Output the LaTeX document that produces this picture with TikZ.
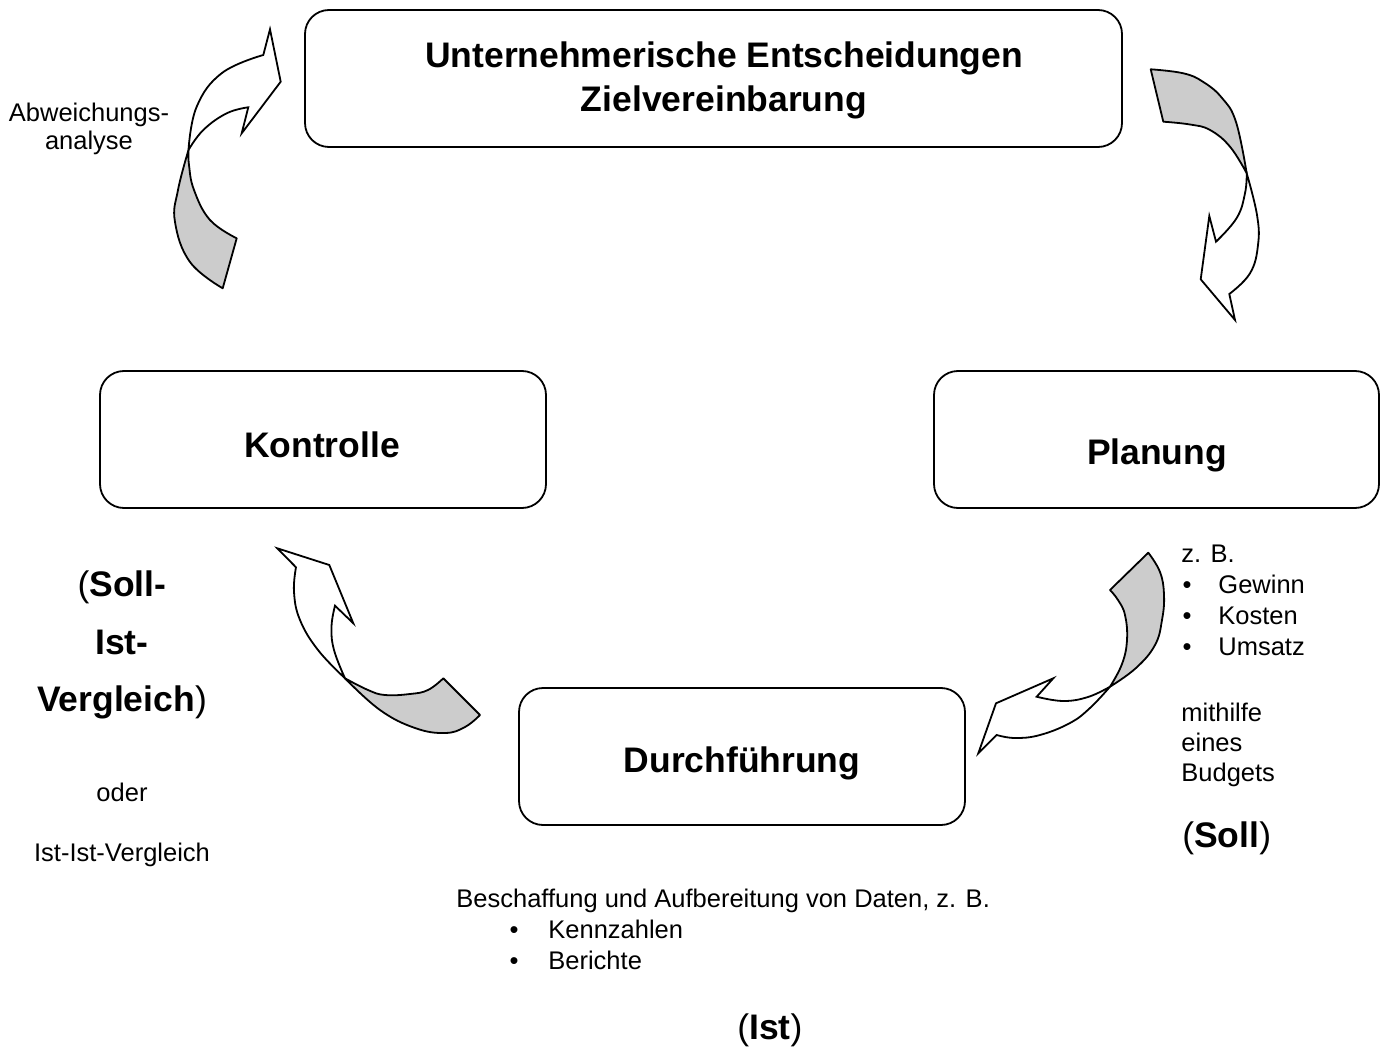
\documentclass[tikz,border=0pt]{standalone}
\usepackage{fontspec}
\setmainfont{Liberation Sans}
\begin{document}
\begin{tikzpicture}[x=0.5pt,y=-0.5pt,
  box/.style={draw=black,line width=0.9pt,rounded corners=12pt,fill=white},
  band/.style={draw=black,line width=0.9pt,fill=black!20,line join=round},
  face/.style={draw=black,line width=0.9pt,fill=white,line join=miter},
  small/.style={font=\fontsize{12.75pt}{15.25pt}\selectfont,inner sep=0pt},
  big/.style={font=\fontsize{17.75pt}{21pt}\selectfont\bfseries,inner sep=0pt}]
\useasboundingbox (0,0) rectangle (1387,1048);

% boxes
\draw[box] (305,10) rectangle (1122,147);
\draw[box] (100,371) rectangle (546,508);
\draw[box] (934,371) rectangle (1379,508);
\draw[box] (519,688) rectangle (965,825);
\node (topbox) at (713,78) {};
\node (kontrollebox) at (323,440) {};
\node (planungbox) at (1157,440) {};
\node (durchbox) at (742,756) {};

% box labels
\node[big,anchor=base] (t1) at (724,68) {Unternehmerische Entscheidungen};
\node[big,anchor=base] (t2) at (724,112) {Zielvereinbarung};
\node[big,anchor=base] (kon) at (322,457) {Kontrolle};
\node[big,anchor=base] (pla) at (1157,464) {Planung};
\node[big,anchor=base] (dur) at (742,772) {Durchführung};

% arrow 1 (top left)
\path[band] (188.5,150) -- plot[smooth,tension=0.7] coordinates {(188.5,150) (178,190) (175,222) (190,262) (222.7,288.3)}
  -- (236.7,238.3) -- plot[smooth,tension=0.7] coordinates {(236.7,238.3) (210,220) (194,190) (189,165) (188.5,150)} -- cycle;
\path[face] (188.5,150) -- plot[smooth,tension=0.7] coordinates {(188.5,150) (196.7,106.7) (222,73) (263.3,55)}
  -- (270,29.3) -- (280.7,81.7) -- (241.7,133.3) -- (248.3,107.3)
  -- plot[smooth,tension=0.7] coordinates {(248.3,107.3) (226.7,113.3) (203.3,130) (188.5,150)} -- cycle;

% arrow 2 (top right)
\path[band] (1150.7,69.3) -- plot[smooth,tension=0.7] coordinates {(1150.7,69.3) (1183.3,73.3) (1203.3,82) (1222,98) (1236,122) (1246.7,173.3)}
  -- plot[smooth,tension=0.7] coordinates {(1246.7,173.3) (1230,146.7) (1210,130) (1190,124.5) (1163.3,121.7)} -- cycle;
\path[face] (1246.7,173.3) -- plot[smooth,tension=0.7] coordinates {(1246.7,173.3) (1257,215) (1258,245) (1250,273.3) (1229.3,294)}
  -- (1235,320) -- (1200.7,279.3) -- (1209.3,216) -- (1216,241.7)
  -- plot[smooth,tension=0.7] coordinates {(1216,241.7) (1236.7,218) (1245,193.3) (1246.7,173.3)} -- cycle;

% arrow 3 (bottom left)
\path[band] (345,678.3) -- plot[smooth,tension=0.7] coordinates {(345,678.3) (380,710) (415,728) (445,733) (465,727) (480,715)}
  -- (443.3,678.3) -- plot[smooth,tension=0.7] coordinates {(443.3,678.3) (428,690) (410,694) (385,695) (368,690) (345,678.3)} -- cycle;
\path[face] (345,678.3) -- plot[smooth,tension=0.7] coordinates {(345,678.3) (318,650) (300,620) (294,592) (296,567.3)}
  -- (277.3,548.3) -- (329.3,565) -- (353.3,623.3) -- (335,605.7)
  -- plot[smooth,tension=0.7] coordinates {(335,605.7) (331.5,626.7) (334,650) (345,678.3)} -- cycle;

% arrow 4 (bottom right)
\path[band] (1148.3,552.7) -- plot[smooth,tension=0.7] coordinates {(1148.3,552.7) (1160,572) (1164,595) (1162,620) (1155,645) (1136,668) (1110,686.7)}
  -- plot[smooth,tension=0.7] coordinates {(1110,686.7) (1122,664) (1127,640) (1125,615) (1118,600) (1110,590)} -- cycle;
\path[face] (1110,686.7) -- plot[smooth,tension=0.7] coordinates {(1110,686.7) (1090,708) (1070,723) (1040,735) (1015,738) (996.7,735)}
  -- (978.3,753.3) -- (996,703.3) -- (1053.3,678.3) -- (1036.7,696.7)
  -- plot[smooth,tension=0.7] coordinates {(1036.7,696.7) (1063,701) (1088,697) (1110,686.7)} -- cycle;

% left texts
\node[small,anchor=base] (abw1) at (89,122) {Abweichungs-};
\node[small,anchor=base] (abw2) at (89,150) {analyse};
\node[big,anchor=base] (sv1) at (122,596) {\mdseries(\bfseries Soll-};
\node[big,anchor=base] (sv2) at (122,654) {Ist-};
\node[big,anchor=base] (sv3) at (122,711) {Vergleich\mdseries)};
\node[small,anchor=base] (oder) at (122,801) {oder};
\node[small,anchor=base] (iiv) at (122,861) {Ist-Ist-Vergleich};

% right texts
\node[small,anchor=base west] (zb) at (1181,562) {z. B.};
\node[small,anchor=base] (b1) at (1187,593) {•};
\node[small,anchor=base west] (gew) at (1218,593) {Gewinn};
\node[small,anchor=base] (b2) at (1187,624) {•};
\node[small,anchor=base west] (kos) at (1218,624) {Kosten};
\node[small,anchor=base] (b3) at (1187,655) {•};
\node[small,anchor=base west] (ums) at (1218,655) {Umsatz};
\node[small,anchor=base west] (mit) at (1181,721) {mithilfe};
\node[small,anchor=base west] (ein) at (1181,751) {eines};
\node[small,anchor=base west] (bud) at (1181,781) {Budgets};
\node[big,anchor=base west] (soll) at (1182,847) {\mdseries(\bfseries Soll\mdseries)};

% bottom texts
\node[small,anchor=base west] (bes) at (456,907) {Beschaffung und Aufbereitung von Daten, z. B.};
\node[small,anchor=base] (b4) at (514,938) {•};
\node[small,anchor=base west] (ken) at (548,938) {Kennzahlen};
\node[small,anchor=base] (b5) at (514,969) {•};
\node[small,anchor=base west] (ber) at (548,969) {Berichte};
\node[big,anchor=base] (ist) at (770,1039) {\mdseries(\bfseries Ist\mdseries)};
\end{tikzpicture}
\end{document}
